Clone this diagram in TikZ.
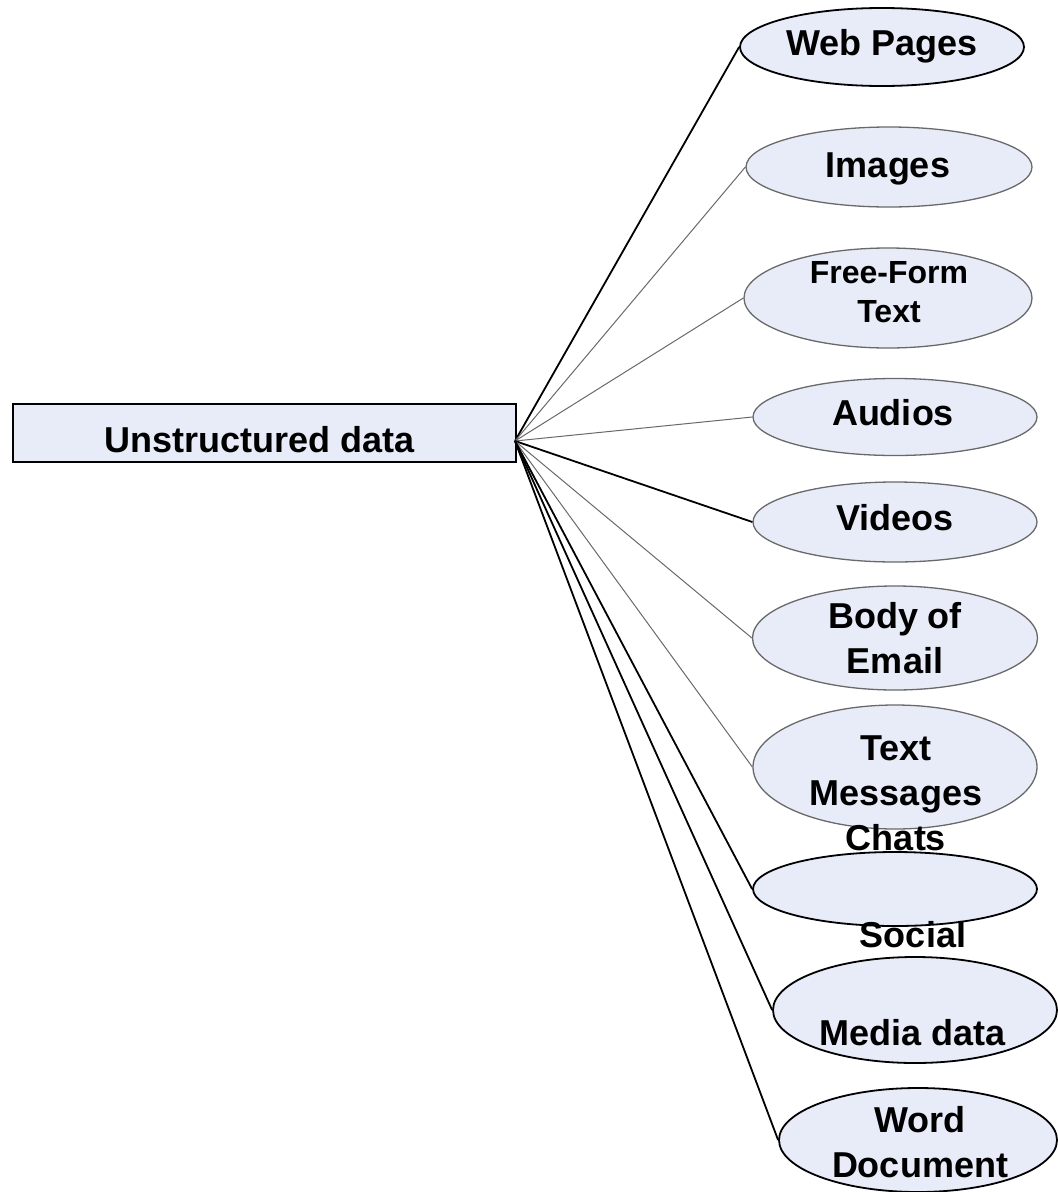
\documentclass[tikz,border=0pt]{standalone}
\usepackage{fontspec}
\setmainfont{Liberation Sans}
\usetikzlibrary{shapes.geometric}
\definecolor{fillc}{RGB}{232,236,248}
\definecolor{thinc}{RGB}{105,105,105}
\begin{document}
\begin{tikzpicture}[x=1pt,y=-1pt,
  ell/.style={ellipse, fill=fillc, inner sep=0pt},
  ellthick/.style={ell, draw=black, line width=1.8pt},
  ellthin/.style={ell, draw=thinc, line width=1.3pt},
  lab/.style={font=\bfseries\fontsize{36}{45}\selectfont, align=center, inner sep=0pt, anchor=base},
  thickln/.style={draw=black, line width=1.8pt},
  thinln/.style={draw=thinc, line width=1pt}]
\useasboundingbox (0,0) rectangle (1058,1192);
% ellipses
\node[ellthick, minimum width=284pt, minimum height=78pt]  (web)   at (882,47)   {};
\node[ellthin,  minimum width=286pt, minimum height=80pt]  (img)   at (889,167)  {};
\node[ellthin,  minimum width=288pt, minimum height=100pt] (free)  at (888,298)  {};
\node[ellthin,  minimum width=284pt, minimum height=77pt]  (aud)   at (895,417)  {};
\node[ellthin,  minimum width=284pt, minimum height=80pt]  (vid)   at (895,522)  {};
\node[ellthin,  minimum width=285pt, minimum height=104pt] (body)  at (895,638)  {};
\node[ellthin,  minimum width=284pt, minimum height=124pt] (msg)   at (895,767)  {};
\node[ellthick, minimum width=284pt, minimum height=74pt]  (chat)  at (895,889)  {};
\node[ellthick, minimum width=284pt, minimum height=106pt] (soc)   at (915,1010) {};
\node[ellthick, minimum width=278pt, minimum height=104pt] (word)  at (918,1140) {};
% box
\node[draw=black, line width=2pt, fill=fillc, minimum width=503pt, minimum height=58pt,
      inner sep=0pt, anchor=north west] (box) at (12,403) {};
\coordinate (fan) at (515,441);
% connectors
\draw[thickln] (fan) -- (web.west);
\draw[thinln]  (fan) -- (img.west);
\draw[thinln]  (fan) -- (free.west);
\draw[thinln]  (fan) -- (aud.west);
\draw[thickln] (fan) -- (vid.west);
\draw[thinln]  (fan) -- (body.west);
\draw[thinln]  (fan) -- (msg.west);
\draw[thickln] (fan) -- (chat.west);
\draw[thickln] (fan) -- (soc.west);
\draw[thickln] (fan) -- (word.west);
% texts (base anchor = baseline of the last line)
\node[lab] (tbox)  at (260,452) {Unstructured data};
\node[lab] (tweb)  at (882,55)  {Web Pages};
\node[lab] (timg)  at (888,177) {Images};
\node[lab, font=\bfseries\fontsize{32}{39}\selectfont] (tfree) at (889,322) {Free-Form\\Text};
\node[lab] (taud)  at (893,425) {Audios};
\node[lab] (tvid)  at (895,530) {Videos};
\node[lab] (tbody) at (895,673) {Body of\\Email};
\node[lab] (tmsg)  at (896,850) {Text\\Messages\\Chats};
\node[lab] (tsoc)  at (913,1045) {Social\\[53pt]Media data};
\node[lab] (tword) at (920,1177) {Word\\Document};
\end{tikzpicture}
\end{document}
